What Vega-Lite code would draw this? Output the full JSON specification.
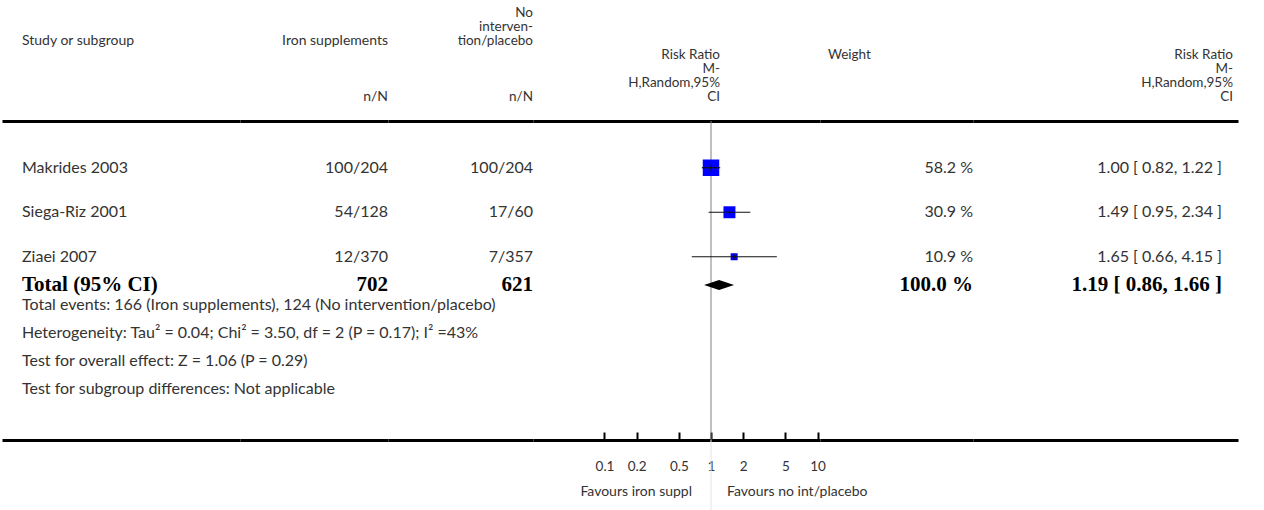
{
  "$schema": "https://vega.github.io/schema/vega-lite/v6.json",
  "background": "white",
  "padding": {"left": 2, "top": 6, "right": 26, "bottom": 0},
  "bounds": "flush",
  "spacing": 0,
  "columns": 6,
  "align": "each",
  "datasets": {
    "header": [
      {"col": "A", "line": 3, "text": "Study or subgroup"},
      {"col": "B", "line": 3, "text": "Iron supplements"},
      {"col": "B", "line": 7, "text": "n/N"},
      {"col": "C", "line": 1, "text": "No"},
      {"col": "C", "line": 2, "text": "interven-"},
      {"col": "C", "line": 3, "text": "tion/placebo"},
      {"col": "C", "line": 7, "text": "n/N"},
      {"col": "D", "line": 4, "text": "Risk Ratio"},
      {"col": "D", "line": 5, "text": "M-"},
      {"col": "D", "line": 6, "text": "H,Random,95%"},
      {"col": "D", "line": 7, "text": "CI"},
      {"col": "E", "line": 4, "text": "Weight"},
      {"col": "F", "line": 4, "text": "Risk Ratio"},
      {"col": "F", "line": 5, "text": "M-"},
      {"col": "F", "line": 6, "text": "H,Random,95%"},
      {"col": "F", "line": 7, "text": "CI"}
    ],
    "studies": [
      {"study": "Makrides 2003", "iron": "100/204", "ctrl": "100/204", "rr": 1.00, "lo": 0.82, "hi": 1.22, "weight": 58.2, "wlabel": "58.2 %", "rrlabel": "1.00 [ 0.82, 1.22 ]"},
      {"study": "Siega-Riz 2001", "iron": "54/128", "ctrl": "17/60", "rr": 1.49, "lo": 0.95, "hi": 2.34, "weight": 30.9, "wlabel": "30.9 %", "rrlabel": "1.49 [ 0.95, 2.34 ]"},
      {"study": "Ziaei 2007", "iron": "12/370", "ctrl": "7/357", "rr": 1.65, "lo": 0.66, "hi": 4.15, "weight": 10.9, "wlabel": "10.9 %", "rrlabel": "1.65 [ 0.66, 4.15 ]"}
    ],
    "total": [
      {"label": "Total (95% CI)", "iron": "702", "ctrl": "621", "rr": 1.19, "lo": 0.86, "hi": 1.66, "wlabel": "100.0 %", "rrlabel": "1.19 [ 0.86, 1.66 ]"}
    ],
    "footer": [
      {"line": 1, "text": "Total events: 166 (Iron supplements), 124 (No intervention/placebo)"},
      {"line": 2, "text": "Heterogeneity: Tau² = 0.04; Chi² = 3.50, df = 2 (P = 0.17); I² =43%"},
      {"line": 3, "text": "Test for overall effect: Z = 1.06 (P = 0.29)"},
      {"line": 4, "text": "Test for subgroup differences: Not applicable"}
    ],
    "favours": [
      {"side": "left", "text": "Favours iron suppl"},
      {"side": "right", "text": "Favours no int/placebo"}
    ]
  },
  "concat": [
    {"width": 238, "height": 115, "data": {"name": "header"}, "transform": [{"filter": "datum.col === 'A'"}],
     "mark": {"type": "text", "align": "left", "dx": 20, "fontSize": 14},
     "encoding": {
       "x": {"datum": 0, "type": "quantitative", "scale": {"domain": [0, 1]}, "axis": {"orient": "bottom", "domain": true, "domainColor": "#000000", "domainWidth": 3, "ticks": false, "labels": false, "grid": false, "title": null}},
       "y": {"field": "line", "type": "ordinal", "scale": {"type": "band", "domain": [1, 2, 3, 4, 5, 6, 7], "paddingInner": 0, "paddingOuter": 0.607, "align": 0}, "axis": null},
       "text": {"field": "text"}}},
    {"width": 148, "height": 115, "data": {"name": "header"}, "transform": [{"filter": "datum.col === 'B'"}],
     "mark": {"type": "text", "align": "right", "fontSize": 14},
     "encoding": {
       "x": {"datum": 1, "type": "quantitative", "scale": {"domain": [0, 1]}, "axis": {"orient": "bottom", "domain": true, "domainColor": "#000000", "domainWidth": 3, "ticks": false, "labels": false, "grid": false, "title": null}},
       "y": {"field": "line", "type": "ordinal", "scale": {"type": "band", "domain": [1, 2, 3, 4, 5, 6, 7], "paddingInner": 0, "paddingOuter": 0.607, "align": 0}, "axis": null},
       "text": {"field": "text"}}},
    {"width": 145, "height": 115, "data": {"name": "header"}, "transform": [{"filter": "datum.col === 'C'"}],
     "mark": {"type": "text", "align": "right", "fontSize": 13.5},
     "encoding": {
       "x": {"datum": 1, "type": "quantitative", "scale": {"domain": [0, 1]}, "axis": {"orient": "bottom", "domain": true, "domainColor": "#000000", "domainWidth": 3, "ticks": false, "labels": false, "grid": false, "title": null}},
       "y": {"field": "line", "type": "ordinal", "scale": {"type": "band", "domain": [1, 2, 3, 4, 5, 6, 7], "paddingInner": 0, "paddingOuter": 0.607, "align": 0}, "axis": null},
       "text": {"field": "text"}}},
    {"width": 287, "height": 115, "data": {"name": "header"}, "transform": [{"filter": "datum.col === 'D'"}],
     "mark": {"type": "text", "align": "right", "dx": 9, "fontSize": 13.5},
     "encoding": {
       "x": {"datum": 1, "type": "quantitative", "scale": {"type": "log", "domain": [0.021313, 10.555], "nice": false}, "axis": {"orient": "bottom", "domain": true, "domainColor": "#000000", "domainWidth": 3, "ticks": false, "labels": false, "grid": false, "title": null}},
       "y": {"field": "line", "type": "ordinal", "scale": {"type": "band", "domain": [1, 2, 3, 4, 5, 6, 7], "paddingInner": 0, "paddingOuter": 0.607, "align": 0}, "axis": null},
       "text": {"field": "text"}}},
    {"width": 153, "height": 115, "data": {"name": "header"}, "transform": [{"filter": "datum.col === 'E'"}],
     "mark": {"type": "text", "align": "left", "dx": 8, "fontSize": 13.5},
     "encoding": {
       "x": {"datum": 0, "type": "quantitative", "scale": {"domain": [0, 1]}, "axis": {"orient": "bottom", "domain": true, "domainColor": "#000000", "domainWidth": 3, "ticks": false, "labels": false, "grid": false, "title": null}},
       "y": {"field": "line", "type": "ordinal", "scale": {"type": "band", "domain": [1, 2, 3, 4, 5, 6, 7], "paddingInner": 0, "paddingOuter": 0.607, "align": 0}, "axis": null},
       "text": {"field": "text"}}},
    {"width": 265, "height": 115, "data": {"name": "header"}, "transform": [{"filter": "datum.col === 'F'"}],
     "mark": {"type": "text", "align": "right", "dx": -5, "fontSize": 13.5},
     "encoding": {
       "x": {"datum": 1, "type": "quantitative", "scale": {"domain": [0, 1]}, "axis": {"orient": "bottom", "domain": true, "domainColor": "#000000", "domainWidth": 3, "ticks": false, "labels": false, "grid": false, "title": null}},
       "y": {"field": "line", "type": "ordinal", "scale": {"type": "band", "domain": [1, 2, 3, 4, 5, 6, 7], "paddingInner": 0, "paddingOuter": 0.607, "align": 0}, "axis": null},
       "text": {"field": "text"}}},

    {"width": 238, "height": 158, "data": {"name": "studies"},
     "mark": {"type": "text", "align": "left", "dx": 20},
     "encoding": {
       "x": {"datum": 0, "type": "quantitative", "scale": {"domain": [0, 1]}, "axis": null},
       "y": {"field": "study", "type": "nominal", "scale": {"type": "band", "domain": ["Makrides 2003", "Siega-Riz 2001", "Ziaei 2007"], "paddingInner": 0, "paddingOuter": 0.2753, "align": 1}, "axis": null},
       "text": {"field": "study"}}},
    {"width": 148, "height": 158, "data": {"name": "studies"},
     "mark": {"type": "text", "align": "right"},
     "encoding": {
       "x": {"datum": 1, "type": "quantitative", "scale": {"domain": [0, 1]}, "axis": null},
       "y": {"field": "study", "type": "nominal", "scale": {"type": "band", "domain": ["Makrides 2003", "Siega-Riz 2001", "Ziaei 2007"], "paddingInner": 0, "paddingOuter": 0.2753, "align": 1}, "axis": null},
       "text": {"field": "iron"}}},
    {"width": 145, "height": 158, "data": {"name": "studies"},
     "mark": {"type": "text", "align": "right"},
     "encoding": {
       "x": {"datum": 1, "type": "quantitative", "scale": {"domain": [0, 1]}, "axis": null},
       "y": {"field": "study", "type": "nominal", "scale": {"type": "band", "domain": ["Makrides 2003", "Siega-Riz 2001", "Ziaei 2007"], "paddingInner": 0, "paddingOuter": 0.2753, "align": 1}, "axis": null},
       "text": {"field": "ctrl"}}},
    {"width": 287, "height": 158,
     "layer": [
       {"data": {"name": "total"},
        "mark": {"type": "rule", "color": "#808080", "strokeWidth": 1},
        "encoding": {"x": {"datum": 1, "type": "quantitative", "scale": {"type": "log", "domain": [0.021313, 10.555], "nice": false}, "axis": null}}},
       {"data": {"name": "studies"},
        "mark": {"type": "square", "filled": true, "color": "#0000ff", "opacity": 1},
        "encoding": {
          "x": {"field": "rr", "type": "quantitative", "scale": {"type": "log", "domain": [0.021313, 10.555], "nice": false}, "axis": null},
          "y": {"field": "study", "type": "nominal", "scale": {"type": "band", "domain": ["Makrides 2003", "Siega-Riz 2001", "Ziaei 2007"], "paddingInner": 0, "paddingOuter": 0.2753, "align": 1}, "axis": null},
          "size": {"field": "weight", "type": "quantitative", "scale": {"domain": [10.9, 58.2], "range": [49, 272], "zero": false}, "legend": null}}},
       {"data": {"name": "studies"},
        "mark": {"type": "rule", "color": "#111111", "strokeWidth": 1.2},
        "encoding": {
          "x": {"field": "lo", "type": "quantitative", "scale": {"type": "log", "domain": [0.021313, 10.555], "nice": false}, "axis": null},
          "x2": {"field": "hi"},
          "y": {"field": "study", "type": "nominal", "scale": {"type": "band", "domain": ["Makrides 2003", "Siega-Riz 2001", "Ziaei 2007"], "paddingInner": 0, "paddingOuter": 0.2753, "align": 1}, "axis": null}}},
       {"data": {"name": "studies"},
        "mark": {"type": "tick", "orient": "vertical", "size": 6, "thickness": 1, "color": "#111111", "opacity": 1},
        "encoding": {
          "x": {"field": "rr", "type": "quantitative", "scale": {"type": "log", "domain": [0.021313, 10.555], "nice": false}, "axis": null},
          "y": {"field": "study", "type": "nominal", "scale": {"type": "band", "domain": ["Makrides 2003", "Siega-Riz 2001", "Ziaei 2007"], "paddingInner": 0, "paddingOuter": 0.2753, "align": 1}, "axis": null}}}
     ]},
    {"width": 153, "height": 158, "data": {"name": "studies"},
     "mark": {"type": "text", "align": "right"},
     "encoding": {
       "x": {"datum": 1, "type": "quantitative", "scale": {"domain": [0, 1]}, "axis": null},
       "y": {"field": "study", "type": "nominal", "scale": {"type": "band", "domain": ["Makrides 2003", "Siega-Riz 2001", "Ziaei 2007"], "paddingInner": 0, "paddingOuter": 0.2753, "align": 1}, "axis": null},
       "text": {"field": "wlabel"}}},
    {"width": 265, "height": 158, "data": {"name": "studies"},
     "mark": {"type": "text", "align": "right", "dx": -16},
     "encoding": {
       "x": {"datum": 1, "type": "quantitative", "scale": {"domain": [0, 1]}, "axis": null},
       "y": {"field": "study", "type": "nominal", "scale": {"type": "band", "domain": ["Makrides 2003", "Siega-Riz 2001", "Ziaei 2007"], "paddingInner": 0, "paddingOuter": 0.2753, "align": 1}, "axis": null},
       "text": {"field": "rrlabel"}}},

    {"width": 238, "height": 12, "data": {"name": "total"},
     "mark": {"type": "text", "align": "left", "dx": 20, "font": "Liberation Serif", "fontWeight": "bold", "fontSize": 21, "color": "#000000"},
     "encoding": {"x": {"datum": 0, "type": "quantitative", "scale": {"domain": [0, 1]}, "axis": null}, "text": {"field": "label"}}},
    {"width": 148, "height": 12, "data": {"name": "total"},
     "mark": {"type": "text", "align": "right", "font": "Liberation Serif", "fontWeight": "bold", "fontSize": 21, "color": "#000000"},
     "encoding": {"x": {"datum": 1, "type": "quantitative", "scale": {"domain": [0, 1]}, "axis": null}, "text": {"field": "iron"}}},
    {"width": 145, "height": 12, "data": {"name": "total"},
     "mark": {"type": "text", "align": "right", "font": "Liberation Serif", "fontWeight": "bold", "fontSize": 21, "color": "#000000"},
     "encoding": {"x": {"datum": 1, "type": "quantitative", "scale": {"domain": [0, 1]}, "axis": null}, "text": {"field": "ctrl"}}},
    {"width": 287, "height": 12, "data": {"name": "total"},
     "layer": [
       {"mark": {"type": "rule", "color": "#808080", "strokeWidth": 1},
        "encoding": {"x": {"datum": 1, "type": "quantitative", "scale": {"type": "log", "domain": [0.021313, 10.555], "nice": false}, "axis": null}}},
       {"mark": {"type": "point", "shape": "M-1,0L0,-0.34L1,0L0,0.34Z", "size": 900, "filled": true, "color": "#000000", "opacity": 1},
        "encoding": {"x": {"field": "rr", "type": "quantitative", "scale": {"type": "log", "domain": [0.021313, 10.555], "nice": false}, "axis": null}}}
     ]},
    {"width": 153, "height": 12, "data": {"name": "total"},
     "mark": {"type": "text", "align": "right", "font": "Liberation Serif", "fontWeight": "bold", "fontSize": 21, "color": "#000000"},
     "encoding": {"x": {"datum": 1, "type": "quantitative", "scale": {"domain": [0, 1]}, "axis": null}, "text": {"field": "wlabel"}}},
    {"width": 265, "height": 12, "data": {"name": "total"},
     "mark": {"type": "text", "align": "right", "dx": -16, "font": "Liberation Serif", "fontWeight": "bold", "fontSize": 21, "color": "#000000"},
     "encoding": {"x": {"datum": 1, "type": "quantitative", "scale": {"domain": [0, 1]}, "axis": null}, "text": {"field": "rrlabel"}}},

    {"width": 238, "height": 112, "data": {"name": "footer"},
     "mark": {"type": "text", "align": "left", "dx": 20},
     "encoding": {
       "x": {"datum": 0, "type": "quantitative", "scale": {"domain": [0, 1]}, "axis": null},
       "y": {"field": "line", "type": "ordinal", "scale": {"type": "band", "domain": [1, 2, 3, 4], "paddingInner": 0, "paddingOuter": 0}, "axis": null},
       "text": {"field": "text"}}},
    {"width": 148, "height": 112, "data": {"name": "total"}, "mark": {"type": "text"}, "encoding": {"text": {"value": ""}}},
    {"width": 145, "height": 112, "data": {"name": "total"}, "mark": {"type": "text"}, "encoding": {"text": {"value": ""}}},
    {"width": 287, "height": 112, "data": {"name": "total"},
     "mark": {"type": "rule", "color": "#808080", "strokeWidth": 1},
     "encoding": {"x": {"datum": 1, "type": "quantitative", "scale": {"type": "log", "domain": [0.021313, 10.555], "nice": false}, "axis": null}}},
    {"width": 153, "height": 112, "data": {"name": "total"}, "mark": {"type": "text"}, "encoding": {"text": {"value": ""}}},
    {"width": 265, "height": 112, "data": {"name": "total"}, "mark": {"type": "text"}, "encoding": {"text": {"value": ""}}},

    {"width": 238, "height": 37, "data": {"name": "total"}, "mark": {"type": "text"},
     "encoding": {"x": {"datum": 0, "type": "quantitative", "scale": {"domain": [0, 1]}, "axis": {"orient": "bottom", "domain": true, "domainColor": "#000000", "domainWidth": 3, "ticks": false, "labels": false, "grid": false, "title": null}}, "text": {"value": ""}}},
    {"width": 148, "height": 37, "data": {"name": "total"}, "mark": {"type": "text"},
     "encoding": {"x": {"datum": 0, "type": "quantitative", "scale": {"domain": [0, 1]}, "axis": {"orient": "bottom", "domain": true, "domainColor": "#000000", "domainWidth": 3, "ticks": false, "labels": false, "grid": false, "title": null}}, "text": {"value": ""}}},
    {"width": 145, "height": 37, "data": {"name": "total"}, "mark": {"type": "text"},
     "encoding": {"x": {"datum": 0, "type": "quantitative", "scale": {"domain": [0, 1]}, "axis": {"orient": "bottom", "domain": true, "domainColor": "#000000", "domainWidth": 3, "ticks": false, "labels": false, "grid": false, "title": null}}, "text": {"value": ""}}},
    {"width": 287, "height": 37, "data": {"name": "total"},
     "mark": {"type": "rule", "color": "#808080", "strokeWidth": 1},
     "encoding": {
       "x": {"datum": 1, "type": "quantitative", "scale": {"type": "log", "domain": [0.021313, 10.555], "nice": false},
             "axis": {"orient": "bottom", "values": [0.1, 0.2, 0.5, 1, 2, 5, 10], "format": "~g", "domain": true, "domainColor": "#000000", "domainWidth": 3, "ticks": true, "tickColor": "#000000", "tickWidth": 2, "tickSize": -8, "labelPadding": 27, "labelFont": "Lato", "labelFontSize": 13.5, "labelColor": "#333333", "labelFlush": false, "labelOverlap": false, "grid": false, "title": null}}}},
    {"width": 153, "height": 37, "data": {"name": "total"}, "mark": {"type": "text"},
     "encoding": {"x": {"datum": 0, "type": "quantitative", "scale": {"domain": [0, 1]}, "axis": {"orient": "bottom", "domain": true, "domainColor": "#000000", "domainWidth": 3, "ticks": false, "labels": false, "grid": false, "title": null}}, "text": {"value": ""}}},
    {"width": 265, "height": 37, "data": {"name": "total"}, "mark": {"type": "text"},
     "encoding": {"x": {"datum": 0, "type": "quantitative", "scale": {"domain": [0, 1]}, "axis": {"orient": "bottom", "domain": true, "domainColor": "#000000", "domainWidth": 3, "ticks": false, "labels": false, "grid": false, "title": null}}, "text": {"value": ""}}},

    {"width": 238, "height": 70, "data": {"name": "total"}, "mark": {"type": "text"}, "encoding": {"text": {"value": ""}}},
    {"width": 148, "height": 70, "data": {"name": "total"}, "mark": {"type": "text"}, "encoding": {"text": {"value": ""}}},
    {"width": 145, "height": 70, "data": {"name": "total"}, "mark": {"type": "text"}, "encoding": {"text": {"value": ""}}},
    {"width": 287, "height": 70,
     "layer": [
       {"data": {"name": "total"},
        "mark": {"type": "rule", "color": "#e4e4e4", "strokeWidth": 1},
        "encoding": {"x": {"datum": 1, "type": "quantitative", "scale": {"type": "log", "domain": [0.021313, 10.555], "nice": false}, "axis": null}}},
       {"data": {"name": "favours"}, "transform": [{"filter": "datum.side === 'left'"}],
        "mark": {"type": "text", "align": "right", "dx": -19, "dy": 17, "fontSize": 14},
        "encoding": {"x": {"datum": 1, "type": "quantitative", "scale": {"type": "log", "domain": [0.021313, 10.555], "nice": false}, "axis": null}, "text": {"field": "text"}}},
       {"data": {"name": "favours"}, "transform": [{"filter": "datum.side === 'right'"}],
        "mark": {"type": "text", "align": "left", "dx": 16, "dy": 17, "fontSize": 14},
        "encoding": {"x": {"datum": 1, "type": "quantitative", "scale": {"type": "log", "domain": [0.021313, 10.555], "nice": false}, "axis": null}, "text": {"field": "text"}}}
     ]},
    {"width": 153, "height": 70, "data": {"name": "total"}, "mark": {"type": "text"}, "encoding": {"text": {"value": ""}}},
    {"width": 265, "height": 70, "data": {"name": "total"}, "mark": {"type": "text"}, "encoding": {"text": {"value": ""}}}
  ],
  "config": {
    "view": {"stroke": null},
    "text": {"font": "Lato", "fontSize": 16, "color": "#333333"}
  }
}
